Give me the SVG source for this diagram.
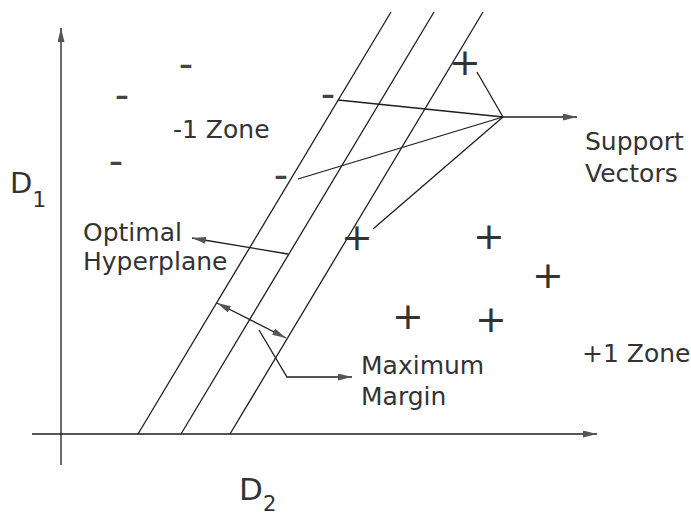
<svg xmlns="http://www.w3.org/2000/svg" width="691" height="515" viewBox="0 0 691 515">
  <defs>
    <style>
      .ln { stroke: #1e1e1e; stroke-width: 1.3; fill: none; }
      .lbl { font-family: "DejaVu Sans", Verdana, sans-serif; font-size: 25px; fill: #333; }
      .ax { font-family: "DejaVu Sans", Verdana, sans-serif; fill: #333; }
      .pl { font-family: "DejaVu Sans", Verdana, sans-serif; font-size: 38px; fill: #333; text-anchor: middle; }
      .mn { font-family: "DejaVu Sans", Verdana, sans-serif; font-size: 40px; fill: #444; text-anchor: middle; }
    </style>
    <marker id="ah" markerWidth="15" markerHeight="8" refX="14" refY="3.5" orient="auto-start-reverse" markerUnits="userSpaceOnUse">
      <path d="M0,0 L14,3.5 L0,7 z" fill="#555"/>
    </marker>
  </defs>
  <rect width="691" height="515" fill="#ffffff"/>

  <g id="axes">
    <line class="ln" x1="61" y1="465" x2="61" y2="28" marker-end="url(#ah)"/>
    <line class="ln" x1="32" y1="434" x2="597" y2="434" marker-end="url(#ah)"/>
    <text class="ax" x="10" y="193" font-size="29">D<tspan font-size="22" dy="14">1</tspan></text>
    <text class="ax" x="239" y="500" font-size="31">D<tspan font-size="21" dy="11">2</tspan></text>
  </g>

  <g id="hyperplanes">
    <line class="ln" x1="138" y1="434" x2="391" y2="12"/>
    <line class="ln" x1="181" y1="434" x2="434" y2="12"/>
    <line class="ln" x1="230" y1="434" x2="483" y2="12"/>
  </g>

  <g id="minus-points">
    <text class="mn" x="186" y="78">-</text>
    <text class="mn" x="122" y="109">-</text>
    <text class="mn" x="116" y="175">-</text>
    <text class="mn" x="281" y="189">-</text>
    <text class="mn" x="328" y="108">-</text>
  </g>

  <g id="plus-points">
    <text class="pl" x="465" y="75">+</text>
    <text class="pl" x="357" y="250">+</text>
    <text class="pl" x="489" y="249">+</text>
    <text class="pl" x="548" y="288">+</text>
    <text class="pl" x="408" y="329">+</text>
    <text class="pl" x="491" y="332">+</text>
  </g>

  <g id="zone-minus">
    <text class="lbl" x="173" y="138">-1 Zone</text>
  </g>
  <g id="zone-plus">
    <text class="lbl" x="582" y="362">+1 Zone</text>
  </g>
  <g id="label-optimal">
    <text class="lbl" x="83" y="241">Optimal</text>
    <text class="lbl" x="83" y="270">Hyperplane</text>
  </g>
  <g id="label-support">
    <text class="lbl" x="585" y="150">Support</text>
    <text class="lbl" x="585" y="182">Vectors</text>
  </g>
  <g id="label-margin">
    <text class="lbl" x="361" y="374">Maximum</text>
    <text class="lbl" x="361" y="405">Margin</text>
  </g>

  <g id="connectors">
    <line class="ln" x1="477" y1="72" x2="503" y2="117"/>
    <line class="ln" x1="338" y1="100" x2="503" y2="117"/>
    <line class="ln" x1="298" y1="179" x2="503" y2="117"/>
    <line class="ln" x1="373" y1="229" x2="503" y2="117"/>
    <line class="ln" x1="503" y1="117" x2="577" y2="117" marker-end="url(#ah)"/>
    <line class="ln" x1="288" y1="254" x2="192" y2="238" marker-end="url(#ah)"/>
    <line class="ln" x1="217" y1="303" x2="286" y2="338" marker-start="url(#ah)" marker-end="url(#ah)"/>
    <polyline class="ln" points="259,330 287,377 352,377" marker-end="url(#ah)"/>
  </g>
</svg>
